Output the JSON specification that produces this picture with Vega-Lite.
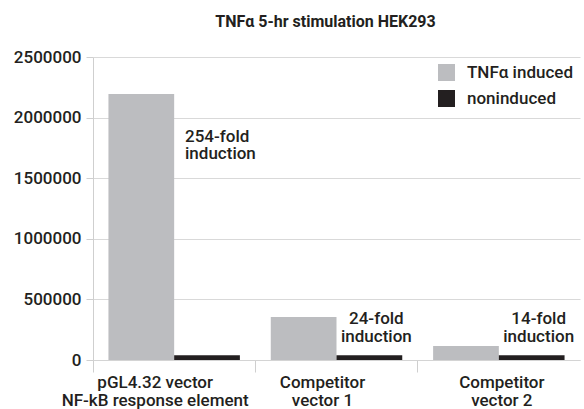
{
  "$schema": "https://vega.github.io/schema/vega-lite/v6.json",
  "autosize": {"type": "none"},
  "width": 487,
  "height": 303,
  "padding": {"left": 93, "top": 57, "right": 4, "bottom": 49},
  "background": "white",
  "title": {
    "text": "TNFα 5-hr stimulation HEK293",
    "font": "Roboto",
    "fontSize": 16,
    "fontWeight": "bold",
    "color": "#231f20",
    "anchor": "middle",
    "offset": 18,
    "dx": -11
  },
  "config": {
    "font": "Roboto",
    "view": {"stroke": null},
    "axis": {"labelFont": "Roboto", "labelColor": "#231f20", "labelFontWeight": 500},
    "legend": {"labelFont": "Roboto", "labelFontWeight": 500}
  },
  "datasets": {
    "bars": [
      {"vector": "pGL4.32 vector\nNF-kB response element", "series": "TNFα induced", "value": 2195000},
      {"vector": "pGL4.32 vector\nNF-kB response element", "series": "noninduced", "value": 40000},
      {"vector": "Competitor\nvector 1", "series": "TNFα induced", "value": 355000},
      {"vector": "Competitor\nvector 1", "series": "noninduced", "value": 40000},
      {"vector": "Competitor\nvector 2", "series": "TNFα induced", "value": 115000},
      {"vector": "Competitor\nvector 2", "series": "noninduced", "value": 40000}
    ],
    "notes": [
      {"vector": "pGL4.32 vector\nNF-kB response element", "series": "noninduced", "note": "254-fold\ninduction", "pos": 1799000, "style": "left"},
      {"vector": "Competitor\nvector 1", "series": "noninduced", "note": "24-fold\ninduction", "pos": 293000, "style": "center"},
      {"vector": "Competitor\nvector 2", "series": "noninduced", "note": "14-fold\ninduction", "pos": 293000, "style": "center"}
    ]
  },
  "layer": [
    {
      "data": {"name": "bars"},
      "mark": {"type": "bar"},
      "encoding": {
        "x": {
          "field": "vector",
          "type": "nominal",
          "sort": null,
          "title": null,
          "scale": {"paddingInner": 0, "paddingOuter": 0},
          "axis": {
            "bandPosition": 0,
            "labelAngle": 0,
            "labelFontSize": 17,
            "labelLimit": 400,
            "labelExpr": "split(datum.label, '\\n')",
            "labelLineHeight": 18,
            "labelOffset": {
              "condition": [
                {"test": "indexof(datum.value, 'pGL') === 0", "value": -19},
                {"test": "indexof(datum.value, 'vector 1') > 0", "value": -14}
              ],
              "value": 3
            },
            "labelPadding": 2,
            "labelBaseline": "top",
            "tickSize": 12,
            "tickColor": "#cfcfcf",
            "domainColor": "#d4d4d4",
            "domainWidth": 1,
            "grid": false
          }
        },
        "xOffset": {
          "field": "series",
          "type": "nominal",
          "sort": ["TNFα induced", "noninduced"],
          "scale": {"paddingInner": 0, "paddingOuter": 0.235}
        },
        "y": {
          "field": "value",
          "type": "quantitative",
          "title": null,
          "scale": {"domain": [0, 2500000], "nice": false},
          "axis": {
            "values": [0, 500000, 1000000, 1500000, 2000000, 2500000],
            "format": "d",
            "labelFontSize": 17,
            "labelPadding": 5,
            "tickSize": 7,
            "tickColor": "#cfcfcf",
            "domainColor": "#cfcfcf",
            "gridColor": "#d9d9d9",
            "grid": true
          }
        },
        "color": {
          "field": "series",
          "type": "nominal",
          "sort": ["TNFα induced", "noninduced"],
          "scale": {"domain": ["TNFα induced", "noninduced"], "range": ["#bcbdc0", "#231f20"]},
          "legend": {
            "title": null,
            "orient": "top-right",
            "offset": 7,
            "symbolType": "square",
            "symbolSize": 289,
            "symbolStrokeWidth": 0,
            "symbolOpacity": 1,
            "labelFontSize": 17,
            "labelColor": "#231f20",
            "labelOffset": 12,
            "rowPadding": 8,
            "padding": 0
          }
        }
      }
    },
    {
      "data": {"name": "notes"},
      "transform": [{"filter": "datum.style === 'left'"}],
      "mark": {"type": "text", "align": "left", "baseline": "alphabetic", "dx": -22, "fontSize": 17, "fontWeight": 500, "lineBreak": "\n", "lineHeight": 17, "color": "#231f20"},
      "encoding": {
        "x": {"field": "vector", "type": "nominal", "sort": null},
        "xOffset": {"field": "series", "type": "nominal", "sort": ["TNFα induced", "noninduced"]},
        "y": {"field": "pos", "type": "quantitative"},
        "text": {"field": "note"}
      }
    },
    {
      "data": {"name": "notes"},
      "transform": [{"filter": "datum.style === 'center'"}],
      "mark": {"type": "text", "align": "center", "baseline": "alphabetic", "dx": 7, "fontSize": 17, "fontWeight": 500, "lineBreak": "\n", "lineHeight": 18, "color": "#231f20"},
      "encoding": {
        "x": {"field": "vector", "type": "nominal", "sort": null},
        "xOffset": {"field": "series", "type": "nominal", "sort": ["TNFα induced", "noninduced"]},
        "y": {"field": "pos", "type": "quantitative"},
        "text": {"field": "note"}
      }
    }
  ]
}
